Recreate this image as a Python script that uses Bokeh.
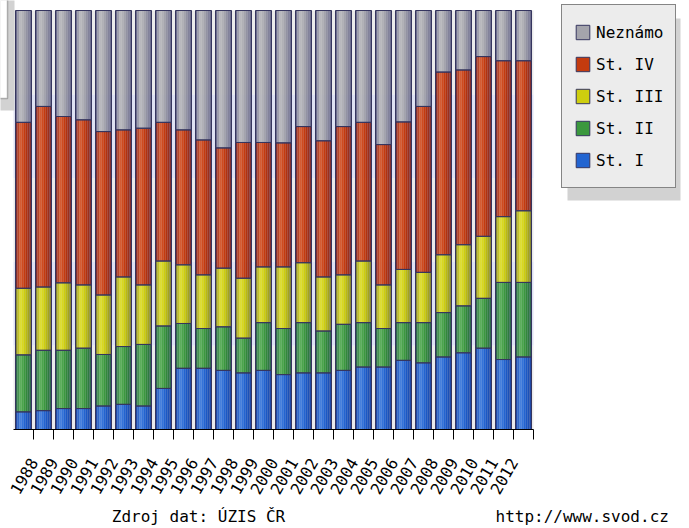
import math

from bokeh.embed import file_html
from bokeh.layouts import column
from bokeh.models import (BoxAnnotation, ColumnDataSource, FixedTicker, Legend,
                          LegendItem, LinearAxis, Range1d)
from bokeh.core.properties import value
from bokeh.plotting import figure
from bokeh.resources import INLINE
from bokeh.transform import dodge

# --- data: share of cases by stage (%) ---------------------------------
years = list(range(1987, 2013))
st_i = [4.2, 4.5, 5.0, 5.0, 5.6, 6.0, 5.6, 9.8, 14.6, 14.6, 14.1, 13.5, 14.1,
        13.1, 13.5, 13.5, 14.1, 14.9, 14.9, 16.5, 15.9, 17.3, 18.3, 19.4, 16.7, 17.3]
st_ii = [13.6, 14.4, 13.9, 14.4, 12.3, 13.8, 14.7, 14.9, 10.7, 9.5, 10.4, 8.3, 11.4,
         11.0, 12.0, 10.0, 11.0, 10.6, 9.2, 9.0, 9.6, 10.6, 11.2, 11.9, 18.4, 17.8]
st_iii = [15.9, 15.1, 16.1, 15.1, 14.2, 16.6, 14.2, 15.5, 14.0, 12.8, 14.0, 14.3, 13.3,
          14.7, 14.3, 12.9, 11.8, 14.7, 10.4, 12.7, 12.0, 13.8, 14.6, 14.8, 15.7, 17.1]
st_iv = [39.6, 43.1, 39.7, 39.4, 39.0, 35.1, 37.4, 33.1, 32.2, 32.2, 28.7, 32.4, 29.7,
         29.6, 32.5, 32.5, 35.4, 33.1, 33.5, 35.2, 39.6, 43.6, 41.7, 42.9, 37.2, 35.8]
neznamo = [26.7, 22.9, 25.3, 26.1, 28.9, 28.5, 28.1, 26.7, 28.5, 30.9, 32.8, 31.5, 31.5,
           31.6, 27.7, 31.1, 27.7, 26.7, 32.0, 26.6, 22.9, 14.7, 14.2, 11.0, 12.0, 12.0]

series_keys = ["st_i", "st_ii", "st_iii", "st_iv", "neznamo"]
series_labels = ["St. I", "St. II", "St. III", "St. IV", "Neznámo"]
series_colors = ["#1860d4", "#339933", "#d4d400", "#c93300", "#a6a6ac"]

band_edges = [0, 20, 40, 60, 80, 100]
band_colors = ["#ebebeb", "#dfe2f3", "#ebebeb", "#dfe2f3", "#ebebeb"]

footer_texts = ["Zdroj dat: ÚZIS ČR", "http://www.svod.cz"]

# --- layout -------------------------------------------------------------
W, H = 689, 528
FOOT_H = 24            # strip under the chart holding the source line
CHART_H = H - FOOT_H
FRAME_H = 429          # frame spans the canvas above the axis panel
TOP_PAD = 10           # blank strip above the 100 % line
STEP = 20              # pixels per year
LEFT = 13              # left edge of the first year slot
FONT = "DejaVu Sans Mono"

n = len(years)
x_start = -0.5 - LEFT / STEP
x_end = x_start + W / STEP
y_end = 100 * FRAME_H / (FRAME_H - TOP_PAD)


def sx(px):
    return x_start + px / STEP


def sy(py):
    return (FRAME_H - py) * y_end / FRAME_H


def shade(hex_color, navy_w, white_w):
    r, g, b = (int(hex_color[i:i + 2], 16) for i in (1, 3, 5))
    nr, ng, nb = 0x2a, 0x2a, 0x6a
    r = r + (nr - r) * navy_w
    g = g + (ng - g) * navy_w
    b = b + (nb - b) * navy_w
    r = r + (255 - r) * white_w
    g = g + (255 - g) * white_w
    b = b + (255 - b) * white_w
    return "#%02x%02x%02x" % (round(r), round(g), round(b))


source = ColumnDataSource(dict(x=list(range(n)), year=years, st_i=st_i, st_ii=st_ii,
                               st_iii=st_iii, st_iv=st_iv, neznamo=neznamo))

p = figure(width=W, height=CHART_H, output_backend="svg", toolbar_location=None,
           x_range=Range1d(x_start, x_end), y_range=Range1d(0, y_end),
           x_axis_location=None, y_axis_location=None,
           min_border_left=0, min_border_right=0, min_border_top=0,
           min_border_bottom=CHART_H - FRAME_H)
p.outline_line_color = None
p.background_fill_color = "white"
p.border_fill_color = "white"
p.grid.visible = False

# background bands behind the bars
p.quad(left=-0.5, right=n - 0.5, bottom=band_edges[:-1], top=band_edges[1:],
       fill_color=band_colors, line_color=None)

# bars: each segment drawn as narrow shaded strips to give a rounded look
profile = [(0.45, 0.0), (0.15, 0.10), (0.0, 0.20), (0.0, 0.12),
           (0.05, 0.04), (0.15, 0.0), (0.28, 0.0), (0.45, 0.0)]
bar_w = 0.8
strip_w = bar_w / len(profile)
legend_fill = None
for j, (nw, ww) in enumerate(profile):
    off = -bar_w / 2 + (j + 0.5) * strip_w
    cols = [shade(c, nw, ww) for c in series_colors]
    rs = p.vbar_stack(series_keys, x=dodge("x", off, range=p.x_range),
                      width=strip_w * 1.1, fill_color=cols, line_color=None,
                      source=source)
    if j == 4:
        legend_fill = rs

outline = p.vbar_stack(series_keys, x="x", width=bar_w, fill_color=None,
                       line_color="#35355f", line_width=1, source=source)

# x axis: ticks between years, year labels sit on the slot's left tick
ticks = [k + 0.5 for k in range(n)]
overrides = {k + 0.5: str(years[k + 1]) for k in range(n - 1)}
overrides[n - 0.5] = ""
xaxis = LinearAxis(ticker=FixedTicker(ticks=ticks), bounds=(-0.5, n - 0.5),
                   major_label_overrides=overrides)
xaxis.axis_line_color = "black"
xaxis.axis_line_width = 1
xaxis.major_tick_line_color = "black"
xaxis.major_tick_out = 10
xaxis.major_tick_in = 0
xaxis.minor_tick_line_color = None
xaxis.major_label_orientation = math.pi / 3
xaxis.major_label_standoff = 20
xaxis.major_label_text_font = FONT
xaxis.major_label_text_font_size = "16px"
xaxis.major_label_text_color = "black"
p.add_layout(xaxis, "below")

# info panel at the top left, mostly outside the canvas
p.add_layout(BoxAnnotation(left=sx(-40), right=sx(14), top=sy(-40), bottom=sy(110),
                           fill_color="#d2d2d2", fill_alpha=1, line_color=None))
p.add_layout(BoxAnnotation(left=sx(-40), right=sx(7), top=sy(-40), bottom=sy(98),
                           fill_color="white", fill_alpha=1, line_color="#1e1e1e",
                           line_width=1.5))

# legend with a drop shadow
PAD, ROW, GAP = 12, 30, 2
leg_h = 2 * PAD + 5 * ROW + 4 * GAP
leg_left, leg_top, leg_w = 561, 6, 113
p.add_layout(BoxAnnotation(left=sx(leg_left + 6), right=sx(leg_left + leg_w + 6),
                           top=sy(leg_top + 12), bottom=sy(leg_top + leg_h + 12),
                           fill_color="#d2d2d2", fill_alpha=1, line_color=None))

items = [LegendItem(label=series_labels[k], renderers=[legend_fill[k], outline[k]])
         for k in reversed(range(len(series_keys)))]
legend = Legend(items=items, location=(leg_left, FRAME_H - leg_top - leg_h),
                orientation="vertical", padding=PAD, spacing=GAP, margin=0,
                label_height=ROW, glyph_height=18, glyph_width=17, label_standoff=5,
                label_text_font=FONT, label_text_font_size="16px",
                label_text_color="black",
                background_fill_color="#ececec", background_fill_alpha=1,
                border_line_color="#1e1e1e", border_line_width=1.5)
p.add_layout(legend)

# footer strip: data source and web address
foot = figure(width=W, height=FOOT_H, output_backend="svg", toolbar_location=None,
              x_range=Range1d(0, W), y_range=Range1d(FOOT_H, 0),
              x_axis_location=None, y_axis_location=None,
              min_border=0, outline_line_color=None)
foot.grid.visible = False
foot.background_fill_color = "white"
foot.border_fill_color = "white"
foot.text(x=[198, 495], y=[12, 12], text=footer_texts, text_align=["center", "left"],
          text_baseline="middle", text_font=value(FONT), text_font_size="16px",
          text_color="black")

layout = column(p, foot, spacing=0)
open("out.html", "w").write(file_html(layout, INLINE))
